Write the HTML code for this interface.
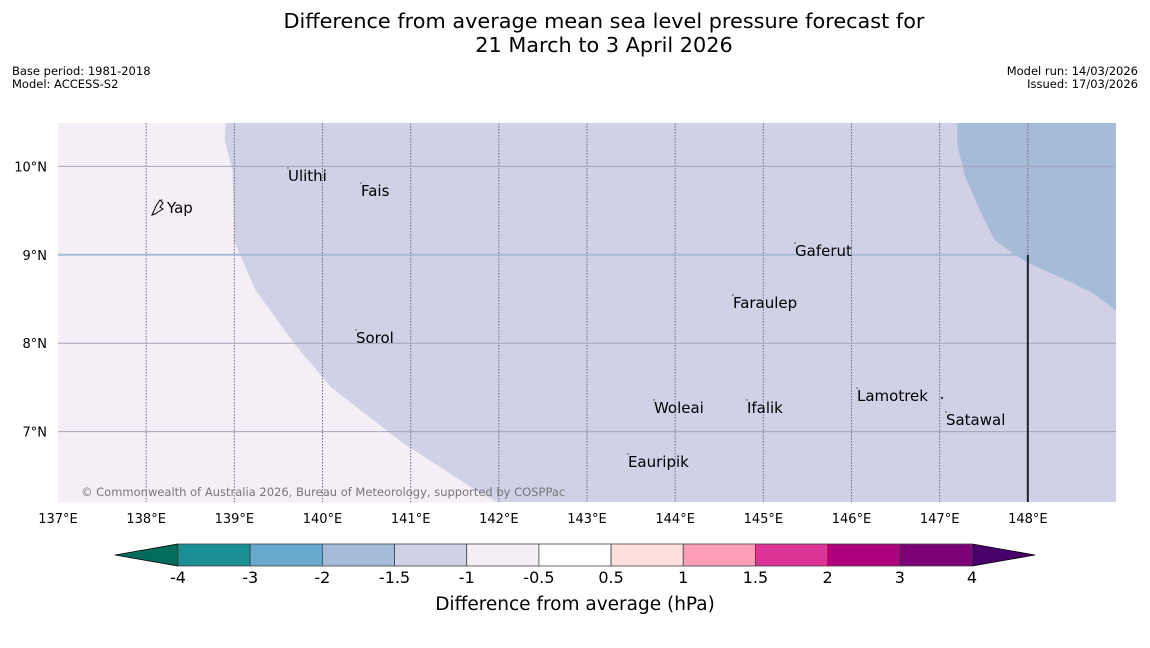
<!DOCTYPE html>
<html><head><meta charset="utf-8">
<style>
html,body{margin:0;padding:0;background:#fff;}
body{width:1150px;height:644px;overflow:hidden;font-family:"DejaVu Sans","Liberation Sans",sans-serif;}
</style></head>
<body>
<svg id="chart" width="1150" height="644" xmlns="http://www.w3.org/2000/svg" font-family="DejaVu Sans, Liberation Sans, sans-serif">
<text x="604" y="28" font-size="20.8" text-anchor="middle">Difference from average mean sea level pressure forecast for</text>
<text x="604" y="52" font-size="20.8" text-anchor="middle">21 March to 3 April 2026</text>
<text x="12" y="75" font-size="11.5">Base period: 1981-2018</text>
<text x="12" y="88" font-size="11.5">Model: ACCESS-S2</text>
<text x="1138" y="75" font-size="11.5" text-anchor="end">Model run: 14/03/2026</text>
<text x="1138" y="88" font-size="11.5" text-anchor="end">Issued: 17/03/2026</text>
<g id="map"></g>
<g id="cbar"></g>
<text x="575" y="610" font-size="18.5" text-anchor="middle">Difference from average (hPa)</text>
</svg>
<script>
const lonTicks=[137,138,139,140,141,142,143,144,145,146,147,148];
const latTicks=[7,8,9,10];
const cbBounds=[-4,-3,-2,-1.5,-1,-0.5,0.5,1,1.5,2,3,4];
const cbLabels=["-4","-3","-2","-1.5","-1","-0.5","0.5","1","1.5","2","3","4"];
const cbColors=["#1b8e96","#67a9cf","#a6bbd8","#d0d1e6","#f4eef6","#ffffff","#fde0dd","#fa9fb5","#dd3497","#ae017e","#7a0177"];
const cbUnder="#016c59", cbOver="#49006a";
const places=[["Yap",138.168,9.529],["Ulithi",139.597,9.891],["Fais",140.425,9.721],["Gaferut",145.348,9.043],["Faraulep",144.644,8.455],["Sorol",140.368,8.059],["Woleai",143.748,7.268],["Ifalik",144.803,7.268],["Lamotrek",146.051,7.403],["Satawal",147.06,7.132],["Eauripik",143.453,6.657]];
const weakRegion=[[137,10.49],[138.9,10.49],[138.89,10.3],[138.98,9.95],[139.0,9.15],[139.24,8.6],[139.7,7.97],[140.1,7.5],[140.9,6.88],[141.8,6.3],[142.0,6.2],[137,6.2]];
const strongRegion=[[147.2,10.49],[147.2,10.25],[147.28,9.91],[147.45,9.51],[147.62,9.17],[147.85,9.0],[148.02,8.9],[148.47,8.7],[148.75,8.56],[149,8.37],[149,10.49]];
const X0=58,X1=1116,Y0=123,Y1=502;
const lonMin=137,lonMax=149,latMin=6.205,latMax=10.49;
const xs=l=>X0+(l-lonMin)/(lonMax-lonMin)*(X1-X0);
const ys=l=>Y0+(latMax-l)/(latMax-latMin)*(Y1-Y0);
const NS="http://www.w3.org/2000/svg";
function mk(p,t,a){const e=document.createElementNS(NS,t);for(const k in a)e.setAttribute(k,a[k]);p.appendChild(e);return e;}
const map=document.getElementById('map');
let bg=mk(map,'rect',{x:X0,y:Y0,width:X1-X0,height:Y1-Y0,fill:'#d0d1e6'});


let w=mk(map,'polygon',{points:weakRegion.map(p=>xs(p[0])+','+ys(p[1])).join(' '),fill:'#f4eef6'});


let s=mk(map,'polygon',{points:strongRegion.map(p=>xs(p[0])+','+ys(p[1])).join(' '),fill:'#a6bbd8'});


lonTicks.forEach(l=>{
  if(l>lonMin){let g=mk(map,'line',{x1:xs(l),x2:xs(l),y1:Y0,y2:Y1,stroke:'#6a6a80','stroke-width':1,'stroke-dasharray':'1.5,1.5'});
  
  }
  let t=mk(map,'text',{x:xs(l),y:Y1+21,'font-size':13,'text-anchor':'middle'});t.textContent=l+'°E';
  
  
});
latTicks.forEach(l=>{
  let g=mk(map,'line',{x1:X0,x2:X1,y1:ys(l),y2:ys(l),stroke:l==9?'#a6bbd8':'#a4a4b8','stroke-width':l==9?2:1});
  
  
  let t=mk(map,'text',{x:47,y:ys(l)+5,'font-size':13,'text-anchor':'end'});t.textContent=l+'°N';
  
  
});
let bl=mk(map,'line',{x1:xs(148),x2:xs(148),y1:ys(9),y2:Y1,stroke:'#222','stroke-width':2});


places.forEach(p=>{
  let d=mk(map,'circle',{cx:xs(p[1])+1,cy:ys(p[2])-8,r:0.7,fill:'#333'});
  
  
  let t=mk(map,'text',{x:xs(p[1])+(p[0]=='Yap'?6:1),y:ys(p[2])+5,'font-size':15});t.textContent=p[0];
  
  
});
let yi=mk(map,'path',{d:'M152,215 L156,206 L160,200 L163,203 L160,207 L163,209 L158,212 L155,214 Z',fill:'none',stroke:'#000','stroke-width':1});


let tl=mk(map,'circle',{cx:942,cy:398,r:1,fill:'#000'});


let cr=mk(map,'text',{x:81,y:496,'font-size':11.5,fill:'#777'});cr.textContent='© Commonwealth of Australia 2026, Bureau of Meteorology, supported by COSPPac';


const cb=document.getElementById('cbar');
const C0=178,C1=972,CT=544,CB=566,n=cbColors.length,cw=(C1-C0)/n;
const cx=i=>C0+i*cw;
let ul=mk(cb,'polygon',{points:`${C0},${CT} ${C0},${CB} 115,555`,fill:cbUnder,stroke:'#000','stroke-width':0.8});


let ov=mk(cb,'polygon',{points:`${C1},${CT} ${C1},${CB} 1035,555`,fill:cbOver,stroke:'#000','stroke-width':0.8});


cbColors.forEach((c,i)=>{
  let r=mk(cb,'rect',{x:cx(i),y:CT,width:cw,height:CB-CT,fill:c,stroke:'#444','stroke-width':0.8});
  
  
});
cbLabels.forEach((l,i)=>{
  let t=mk(cb,'text',{x:cx(i),y:583,'font-size':16,'text-anchor':'middle'});t.textContent=l;
  
  
});
</script>
</body></html>
